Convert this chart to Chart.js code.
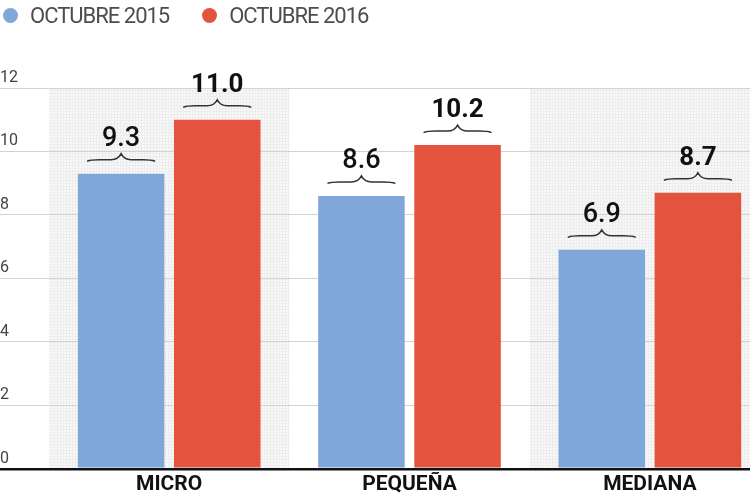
<!DOCTYPE html>
<html>
<head>
<meta charset="utf-8">
<script src="https://cdn.jsdelivr.net/npm/chart.js@4/dist/chart.umd.min.js"></script>
<style>
  html, body { margin: 0; padding: 0; background: #fff; overflow: hidden; width: 750px; height: 500px; }
  #wrap { position: relative; width: 770px; height: 500px; }
  #leyenda { position: absolute; top: 3px; left: 3px; display: flex; align-items: center; font-family: Roboto, sans-serif; font-size: 22px; letter-spacing: -1px; color: #4d4d4d; z-index: 2; }
  #leyenda span.item { display: flex; align-items: center; margin-right: 33px; }
  #leyenda span.dot { width: 15px; height: 15px; border-radius: 50%; margin-right: 12px; }
</style>
</head>
<body>
<div id="wrap">
  <div id="leyenda"></div>
  <canvas id="empresasChart"></canvas>
</div>
<script>
// datos
var categorias = ['MICRO', 'PEQUEÑA', 'MEDIANA'];
var octubre2015 = [9.3, 8.6, 6.9];
var octubre2016 = [11.0, 10.2, 8.7];
var series = ['OCTUBRE 2015', 'OCTUBRE 2016'];
var colores = ['#80a7da', '#e4533e'];

// textura de las franjas
function crearPatron() {
    var c = document.createElement('canvas');
    c.width = 3; c.height = 3;
    var g = c.getContext('2d');
    g.fillStyle = '#f8f8f8';
    g.fillRect(0, 0, 3, 3);
    g.fillStyle = '#ededed';
    g.fillRect(0, 0, 3, 1);
    g.fillRect(0, 0, 1, 3);
    return g.createPattern(c, 'repeat');
}

// franjas grises detras de MICRO y MEDIANA
var franjas = {
    id: 'franjas',
    beforeDraw: function(chart) {
        var ctx = chart.ctx, area = chart.chartArea, x = chart.scales.x;
        var ancho = (area.right - area.left) / categorias.length;
        ctx.save();
        ctx.fillStyle = crearPatron();
        categorias.forEach(function(c, i) {
            if (i % 2 === 0) {
                var cx = x.getPixelForValue(i);
                ctx.fillRect(cx - ancho / 2, area.top, ancho, area.bottom - area.top);
            }
        });
        ctx.restore();
    }
};

// llaves y valores encima de cada barra
var etiquetas = {
    id: 'etiquetas',
    afterDatasetsDraw: function(chart) {
        var ctx = chart.ctx;
        ctx.save();
        chart.data.datasets.forEach(function(ds, i) {
            var meta = chart.getDatasetMeta(i);
            meta.data.forEach(function(bar, j) {
                var x = bar.x, top = bar.y;
                var y = top - 14, w = 34;
                ctx.strokeStyle = '#333';
                ctx.lineWidth = 1.5;
                ctx.beginPath();
                ctx.moveTo(x - w, y + 1.5);
                ctx.quadraticCurveTo(x - w + 4, y, x - w + 12, y);
                ctx.lineTo(x - 10, y);
                ctx.quadraticCurveTo(x - 3, y, x, y - 6);
                ctx.quadraticCurveTo(x + 3, y, x + 10, y);
                ctx.lineTo(x + w - 12, y);
                ctx.quadraticCurveTo(x + w - 4, y, x + w, y + 1.5);
                ctx.stroke();

                ctx.fillStyle = '#111';
                ctx.font = (i === 1 ? 'bold 26px' : '500 27px') + ' Roboto, sans-serif';
                ctx.textAlign = 'center';
                ctx.textBaseline = 'alphabetic';
                ctx.fillText(ds.data[j].toFixed(1), x, top - 28);
            });
        });
        ctx.restore();
    }
};

var ctx = document.getElementById('empresasChart').getContext('2d');
var grafico = new Chart(ctx, {
    type: 'bar',
    data: {
        labels: categorias,
        datasets: [{
            label: series[0],
            data: octubre2015,
            backgroundColor: colores[0],
            borderWidth: 0
        }, {
            label: series[1],
            data: octubre2016,
            backgroundColor: colores[1],
            borderWidth: 0
        }]
    },
    options: {
        responsive: true,
        maintainAspectRatio: false,
        animation: false,
        layout: { padding: { top: 88, left: 0, right: 0, bottom: 0 } },
        plugins: {
            legend: { display: false },
            tooltip: { enabled: false }
        },
        scales: {
            x: {
                grid: { display: false, drawTicks: false },
                border: { display: false },
                ticks: {
                    padding: 3,
                    color: '#111',
                    font: { family: 'Roboto', size: 21, weight: 'bold' }
                }
            },
            y: {
                min: 0,
                max: 12,
                afterFit: function(scale) { scale.width = 49; },
                border: { display: false },
                grid: {
                    tickLength: 49,
                    color: function(c) { return c.tick && c.tick.value === 0 ? '#111' : '#d2d2d2'; },
                    lineWidth: function(c) { return c.tick && c.tick.value === 0 ? 2.5 : 1; }
                },
                ticks: {
                    stepSize: 2,
                    crossAlign: 'far',
                    labelOffset: -10,
                    color: '#444',
                    font: { family: 'Roboto', size: 16 }
                }
            }
        }
    },
    plugins: [franjas, etiquetas]
});

// leyenda en html a partir de los datasets
var leyenda = document.getElementById('leyenda');
grafico.data.datasets.forEach(function(ds) {
    var item = document.createElement('span');
    item.className = 'item';
    var dot = document.createElement('span');
    dot.className = 'dot';
    dot.style.background = ds.backgroundColor;
    item.appendChild(dot);
    item.appendChild(document.createTextNode(ds.label));
    leyenda.appendChild(item);
});
</script>
</body>
</html>
